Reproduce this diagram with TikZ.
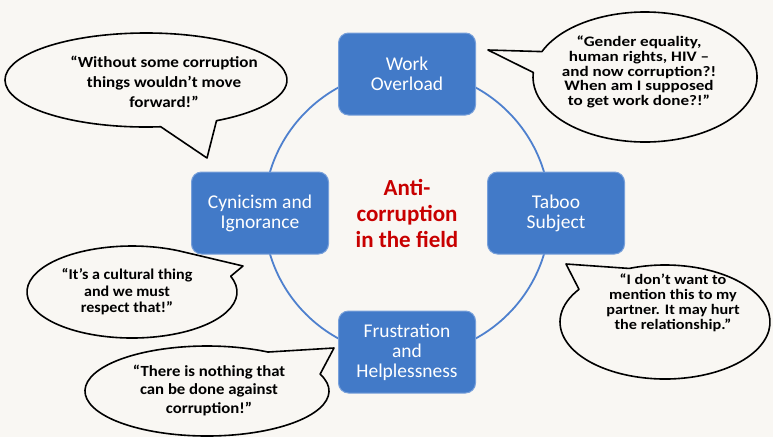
\documentclass[tikz,border=0pt]{standalone}
\usepackage{fontspec}
\setmainfont{Carlito}
\definecolor{bg}{RGB}{249,247,243}
\definecolor{boxblue}{RGB}{66,122,200}
\definecolor{boxedge}{RGB}{120,160,218}
\definecolor{ringblue}{RGB}{78,128,206}
\definecolor{titlered}{RGB}{200,0,0}
\newcommand{\wideq}[2]{\scalebox{#1}[1]{\begin{tabular}{@{}c@{}}#2\end{tabular}}}
\tikzset{
  stagebox/.style={draw=boxedge, line width=1pt, fill=boxblue, rounded corners=10pt,
    minimum width=137pt, minimum height=82pt, text=white, align=center,
    font=\fontsize{19.5}{20}\selectfont, inner sep=2pt},
  bubble/.style={draw=black, line width=1.6pt, fill=bg, line join=round},
  quote/.style={align=center, text=black, inner sep=0pt},
}
\begin{document}
\begin{tikzpicture}[x=1pt,y=-1pt]
\fill[bg] (0,0) rectangle (773,437);
\useasboundingbox (0,0) rectangle (773,437);

% ring
\coordinate (hub) at (407,213);
\draw[ringblue, line width=1.8pt] (hub) circle[radius=143];

% tips of speech bubbles
\coordinate (tipA) at (207,158);
\coordinate (tipB) at (488,50);
\coordinate (tipC) at (243,266);
\coordinate (tipD) at (566,264);
\coordinate (tipE) at (334,348);

% bubbles
\draw[bubble] (146,80) ++(84:141 and 47) arc[start angle=84, end angle=420, x radius=141, y radius=47] -- (tipA) -- cycle;
\draw[bubble] (645,77) ++(203:112 and 65) arc[start angle=203, end angle=544, x radius=112, y radius=65] -- (tipB) -- cycle;
\draw[bubble] (132,292) ++(340:105 and 46) arc[start angle=340, end angle=660, x radius=105, y radius=46] -- (tipC) -- cycle;
\draw[bubble] (665,322) ++(250:105 and 57) arc[start angle=250, end angle=575, x radius=105, y radius=57] -- (tipD) -- cycle;
\draw[bubble] (207,391) ++(338:122 and 45) arc[start angle=338, end angle=660, x radius=122, y radius=45] -- (tipE) -- cycle;

% quotes
\node[quote, font=\fontsize{15.5}{20}\selectfont\bfseries] (qA) at (164,83)
  {\wideq{1.1}{“Without some corruption\\things wouldn’t move\\forward!”}};
\node[quote, font=\fontsize{14.5}{14.6}\selectfont\bfseries] (qB) at (639,73)
  {\wideq{1.18}{“Gender equality,\\human rights, HIV –\\and now corruption?!\\When am I supposed\\to get work done?!”}};
\node[quote, font=\fontsize{15}{16.5}\selectfont\bfseries] (qC) at (127,293)
  {\wideq{1.07}{“It’s a cultural thing\\and we must\\respect that!”}};
\node[quote, font=\fontsize{14.5}{15}\selectfont\bfseries] (qD) at (673,304)
  {\wideq{1.12}{“I don’t want to\\mention this to my\\partner. It may hurt\\the relationship.”}};
\node[quote, font=\fontsize{15.5}{18.5}\selectfont\bfseries] (qE) at (209,391)
  {\wideq{1.08}{“There is nothing that\\can be done against\\corruption!”}};

% stage boxes
\node[stagebox] (work) at (407,74) {Work\\Overload};
\node[stagebox] (cyn) at (260,213) {Cynicism and\\Ignorance};
\node[stagebox] (taboo) at (556,213) {Taboo\\Subject};
\node[stagebox] (frus) at (407,352) {Frustration\\and\\Helplessness};

% centre title
\node[align=center, text=titlered, font=\fontsize{23}{26}\selectfont\bfseries] (title) at (hub)
  {Anti-\\corruption\\in the field};
\end{tikzpicture}
\end{document}
